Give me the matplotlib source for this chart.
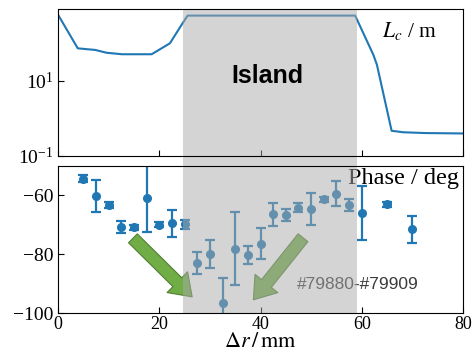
import numpy as np
import matplotlib
matplotlib.use('Agg')
import matplotlib.pyplot as plt

plt.rcParams['font.family'] = 'Liberation Serif'
plt.rcParams['mathtext.fontset'] = 'stix'

# correlation length along the scan (top panel)
lc_r = [0, 3.9, 5.7, 7.3, 9.6, 12.6, 18.5, 22.1, 24.4, 25.6,
        58.7, 62.3, 63.0, 65.9, 68.2, 72.5, 80]
lc_m = [600, 75, 71, 68, 57, 52, 52, 102, 318, 565,
        565, 50, 27, 0.46, 0.42, 0.40, 0.39]

# phase with error bars (bottom panel)
ph_r = [5, 7.5, 10, 12.5, 15, 17.5, 20, 22.5, 25, 27.5, 30, 32.5, 35,
        37.5, 40, 42.5, 45, 47.5, 50, 52.5, 55, 57.5, 60, 65, 70]
ph_deg = [-54.4, -60.3, -63.2, -70.7, -70.9, -61.0, -70.0, -69.5, -69.8,
          -83.0, -80.0, -96.7, -78.1, -80.3, -76.4, -66.4, -66.6, -64.2,
          -64.7, -61.3, -59.4, -63.3, -66.1, -63.0, -71.5]
ph_err = [1.2, 5.5, 1.0, 2.1, 1.0, 11.6, 0.8, 4.6, 1.5, 3.7, 4.7, 8.6, 12.5,
          3.0, 5.3, 3.9, 2.0, 1.5, 5.5, 0.8, 4.3, 2.0, 9.2, 0.8, 4.6]

island = (24.7, 59.0)
arrows = [((14.8, -74.6), (26.5, -94.5)), ((48.4, -74.4), (38.6, -95.5))]

W, H = 475, 356
fig = plt.figure(figsize=(W / 100, H / 100), dpi=100)
L, R = 58 / W, 463 / W
ax1 = fig.add_axes([L, 1 - 155.5 / H, R - L, 146.5 / H])
ax2 = fig.add_axes([L, 1 - 313 / H, R - L, 147 / H])

blue = '#1f77b4'
shade = dict(color='#aaaaaa', alpha=0.5, lw=0, zorder=2.4)

# top: Lc
ax1.plot(lc_r, lc_m, color=blue, lw=1.5)
ax1.set_yscale('log')
ax1.set_xlim(0, 80)
ax1.set_ylim(0.1, 850)
ax1.set_yticks([0.1, 10])
ax1.yaxis.set_minor_locator(matplotlib.ticker.NullLocator())
ax1.set_xticks([0, 20, 40, 60, 80])
ax1.tick_params(labelbottom=False)
gap = (166 - 155.5) / 146.5
ax1.axvspan(*island, ymin=-gap, ymax=1, clip_on=False, **shade)
ax1.text(0.517, 0.495, 'Island', transform=ax1.transAxes, ha='center',
         va='baseline', fontsize=18, fontweight='bold',
         family='Liberation Sans', zorder=3)
ax1.text(0.80, 0.81, r'$L_c$ / m', transform=ax1.transAxes, fontsize=15.5,
         va='baseline')

# bottom: phase
ax2.errorbar(ph_r, ph_deg, yerr=ph_err, fmt='o', color=blue, ms=5.5,
             elinewidth=1.6, capsize=3.5, capthick=1.6)
ax2.set_xlim(0, 80)
ax2.set_ylim(-100, -50)
ax2.set_yticks([-100, -80, -60])
ax2.set_xticks([0, 20, 40, 60, 80])
ax2.axvspan(*island, **shade)
for tail, tip in arrows:
    ax2.annotate('', xy=tip, xytext=tail, zorder=2.2,
                 arrowprops=dict(arrowstyle='simple,head_length=15,head_width=21,tail_width=9',
                                 mutation_scale=1, fc='#70ad47', ec='#507e32',
                                 lw=0.8, shrinkA=0, shrinkB=0))
ax2.text(47.2, -91.8, '#79880-#79909', family='Liberation Sans', fontsize=12.5,
         color='#3a3a3a', va='baseline', zorder=2.3)
ax2.text(0.716, 0.878, 'Phase / deg', transform=ax2.transAxes, fontsize=17.5,
         va='baseline', zorder=2.3)
ax2.set_xlabel(r'$\Delta r\,/\,\mathrm{mm}$', fontsize=16, labelpad=0)

for ax in (ax1, ax2):
    ax.tick_params(direction='in', labelsize=14, length=4, pad=3)
    ax.tick_params(axis='x', labelsize=13, pad=2)

fig.savefig('out.png', dpi=100)
